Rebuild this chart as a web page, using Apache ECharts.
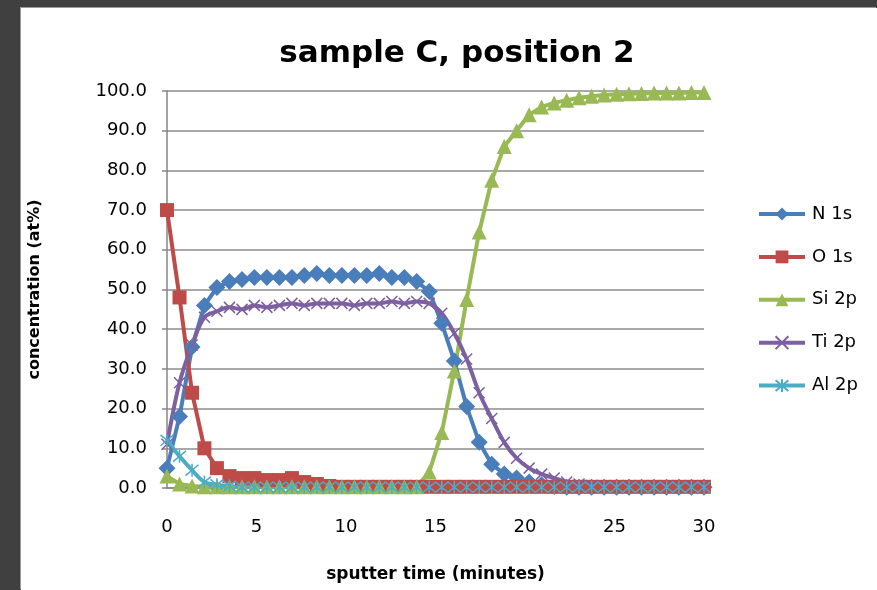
<!DOCTYPE html>
<html>
<head>
<meta charset="utf-8">
<script src="https://cdn.jsdelivr.net/npm/echarts@6/dist/echarts.min.js"></script>
<style>
  html, body { margin: 0; padding: 0; background: #404040; width: 877px; height: 590px; overflow: hidden; }
  #panel { position: absolute; left: 21px; top: 8px; width: 856px; height: 582px; background: #ffffff; box-shadow: -1px -1px 0 #9a9a9a; }
  #chart { position: absolute; left: 0; top: 0; width: 877px; height: 590px; }
</style>
</head>
<body>
<div id="panel"></div>
<div id="chart"></div>
<script>
// Sputter time of each measurement cycle (minutes)
const sputterTime = [0, 0.70, 1.40, 2.09, 2.79, 3.49, 4.19, 4.88, 5.58, 6.28, 6.98, 7.67, 8.37, 9.07, 9.77,
  10.47, 11.16, 11.86, 12.56, 13.26, 13.95, 14.65, 15.35, 16.05, 16.74, 17.44, 18.14, 18.84, 19.53,
  20.23, 20.93, 21.63, 22.33, 23.02, 23.72, 24.42, 25.12, 25.81, 26.51, 27.21, 27.91, 28.60, 29.30, 30.00];

// Concentrations (at%)
const n1s = [5, 18, 35.5, 46, 50.5, 52, 52.5, 53, 53, 53, 53, 53.5, 54, 53.5, 53.5, 53.5, 53.5, 54, 53, 53,
  52, 49.5, 41.5, 32, 20.5, 11.5, 6, 3.5, 2.5, 1.5, 0.8, 0.4, 0.2, 0.2, 0.2, 0.2, 0.2, 0.2, 0.2, 0.2, 0.2, 0.2, 0.2, 0.2];
const o1s = [70, 48, 24, 10, 5, 3, 2.5, 2.5, 2, 2, 2.5, 1.5, 1, 0.5, 0.3, 0.3, 0.3, 0.3, 0.3, 0.3,
  0.3, 0.3, 0.3, 0.3, 0.3, 0.3, 0.3, 0.3, 0.3, 0.3, 0.3, 0.3, 0.3, 0.3, 0.3, 0.3, 0.3, 0.3, 0.3, 0.3, 0.3, 0.3, 0.3, 0.3];
const si2p = [3, 1, 0.5, 0.3, 0.3, 0.3, 0.3, 0.3, 0.3, 0.3, 0.3, 0.3, 0.3, 0.3, 0.3, 0.3, 0.3, 0.3, 0.3, 0.3,
  0.3, 4, 14, 29.5, 47.5, 64.5, 77.5, 86, 90, 94, 96, 97, 97.7, 98.3, 98.7, 99, 99.2, 99.3, 99.4, 99.5, 99.5, 99.5, 99.6, 99.6];
const ti2p = [11, 26.5, 36, 43, 44.5, 45.5, 45, 46, 45.5, 46, 46.5, 46, 46.5, 46.5, 46.5, 46, 46.5, 46.5, 47, 46.5,
  47, 46.5, 44, 39, 32.5, 24, 17.5, 11.5, 7.5, 5, 3.5, 2.5, 1.5, 1, 0.6, 0.4, 0.3, 0.3, 0.3, 0.3, 0.3, 0.3, 0.3, 0.3];
const al2p = [12, 8, 4.5, 1.5, 0.8, 0.5, 0.2, 0.2, 0.2, 0.2, 0.2, 0.2, 0.2, 0.2, 0.2, 0.2, 0.2, 0.2, 0.2, 0.2,
  0.2, 0.2, 0.2, 0.2, 0.2, 0.2, 0.2, 0.2, 0.2, 0.2, 0.2, 0.2, 0.2, 0.2, 0.2, 0.2, 0.2, 0.2, 0.2, 0.2, 0.2, 0.2, 0.2, 0.2];

const seriesNames = ['N 1s', 'O 1s', 'Si 2p', 'Ti 2p', 'Al 2p'];
const xTicks = [0, 5, 10, 15, 20, 25, 30];

const FONT = '"DejaVu Sans", sans-serif';
const crossPath = 'path://M0,0L10,10M10,0L0,10';
const starPath = 'path://M0,0L10,10M10,0L0,10M5,-1L5,11';

function pairs(values) {
  return sputterTime.map((t, i) => [t, values[i]]);
}

function lineSeries(name, values, color, symbol, size, extra) {
  return Object.assign({
    name: name,
    type: 'line',
    data: pairs(values),
    symbol: symbol,
    symbolSize: size,
    showAllSymbol: true,
    clip: false,
    lineStyle: { color: color, width: 4 },
    itemStyle: { color: color, borderColor: color, borderWidth: 0 },
    emphasis: { disabled: true },
    animation: false
  }, extra || {});
}

const chart = echarts.init(document.getElementById('chart'), null, { renderer: 'canvas' });
chart.setOption({
  backgroundColor: 'transparent',
  animation: false,
  title: {
    text: 'sample C, position 2',
    left: 452,
    top: 33,
    textAlign: 'center',
    textStyle: { fontFamily: FONT, fontWeight: 'bold', fontSize: 31, color: '#000' }
  },
  grid: { left: 167, right: 173, top: 91, bottom: 102, containLabel: false },
  legend: {
    orient: 'vertical',
    left: 757,
    top: 205,
    padding: 0,
    itemWidth: 46,
    itemHeight: 16,
    itemGap: 24.9,
    data: seriesNames,
    lineStyle: { width: 4 },
    textStyle: { fontFamily: FONT, fontSize: 18, color: '#000', lineHeight: 16, padding: [0, 0, 0, 2] },
    selectedMode: false
  },
  xAxis: {
    type: 'value',
    min: 0,
    max: 30,
    interval: 5,
    name: 'sputter time (minutes)',
    nameLocation: 'middle',
    nameGap: 78,
    nameTextStyle: { fontFamily: FONT, fontWeight: 'bold', fontSize: 17, color: '#000' },
    axisLine: { show: true, onZero: true, lineStyle: { color: '#868686', width: 1.5 } },
    axisTick: { show: false },
    splitLine: { show: false },
    axisLabel: {
      margin: 30,
      fontFamily: FONT, fontSize: 18, color: '#000',
      formatter: v => xTicks.includes(v) ? String(v) : ''
    }
  },
  yAxis: {
    type: 'value',
    min: 0,
    max: 100,
    interval: 10,
    name: 'concentration (at%)',
    nameLocation: 'middle',
    nameGap: 124,
    nameTextStyle: { fontFamily: FONT, fontWeight: 'bold', fontSize: 16, color: '#000' },
    axisLine: { show: true, lineStyle: { color: '#868686', width: 1.5 } },
    axisTick: { show: true, inside: false, length: 5, lineStyle: { color: '#868686', width: 1.5 } },
    splitLine: { show: true, lineStyle: { color: '#8c8c8c', width: 1.5 } },
    axisLabel: {
      margin: 20,
      fontFamily: FONT, fontSize: 18, color: '#000',
      formatter: v => v.toFixed(1)
    }
  },
  series: [
    lineSeries('N 1s', n1s, '#4a7ebb', 'diamond', 17),
    lineSeries('O 1s', o1s, '#be4b48', 'rect', 14),
    lineSeries('Si 2p', si2p, '#98b954', 'triangle', 15),
    lineSeries('Ti 2p', ti2p, '#7d60a0', crossPath, 11, {
      smooth: 0.35,
      itemStyle: { color: 'none', borderColor: '#7d60a0', borderWidth: 1.5 }
    }),
    lineSeries('Al 2p', al2p, '#4bacc6', starPath, 13, {
      smooth: 0.35,
      itemStyle: { color: 'none', borderColor: '#4bacc6', borderWidth: 1.5 }
    })
  ]
});
</script>
</body>
</html>
